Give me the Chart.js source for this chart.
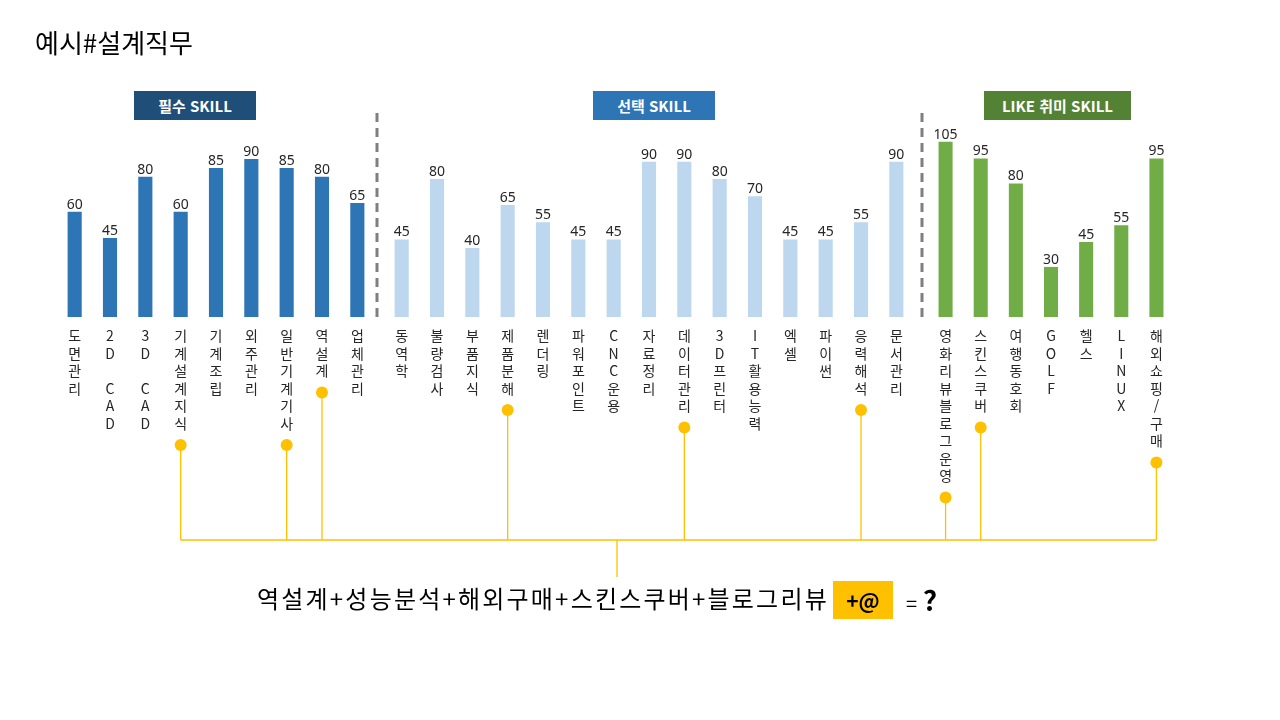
<!DOCTYPE html>
<html lang="ko">
<head>
<meta charset="utf-8">
<title>예시#설계직무</title>
<script src="https://cdn.jsdelivr.net/npm/chart.js@4.4.1/dist/chart.umd.min.js"></script>
<style>
  html, body { margin: 0; padding: 0; background: #fff; }
  #page { position: relative; width: 1280px; height: 720px; overflow: hidden;
          font-family: "Noto Sans CJK KR", "Noto Sans", sans-serif; }
  #page canvas { position: absolute; left: 0; top: 0; }
  .title { position: absolute; left: 35px; top: 29px; font-size: 26px; line-height: 26px; color: #000; }
  .tag { position: absolute; top: 91px; height: 29px; line-height: 29px; color: #fff;
         font-weight: bold; font-size: 15px; text-align: center; }
  .formula { position: absolute; left: 257px; top: 586px; font-size: 24px; line-height: 24px;
             color: #000; letter-spacing: 2.2px; white-space: nowrap; }
  .plus { position: absolute; left: 833px; top: 581px; width: 60px; height: 38px; line-height: 38px;
          background: #FFC000; color: #000; font-weight: bold; font-size: 21px; text-align: center; }
  .eq { position: absolute; left: 906px; top: 584px; font-size: 20px; line-height: 30px; color: #000; white-space: nowrap; }
  .eq b { font-size: 28px; }
</style>
</head>
<body>
<div id="page">
  <canvas id="c1" width="1280" height="720"></canvas>
  <canvas id="c2" width="1280" height="720"></canvas>
  <canvas id="c3" width="1280" height="720"></canvas>
  <canvas id="deco" width="1280" height="720"></canvas>
  <div class="title">예시#설계직무</div>
  <div class="tag" style="left:134px;width:122px;background:#1F4E79;">필수 SKILL</div>
  <div class="tag" style="left:593px;width:122px;background:#2E75B6;">선택 SKILL</div>
  <div class="tag" style="left:984px;width:147px;background:#548235;">LIKE 취미 SKILL</div>
  <div class="formula">역설계+성능분석+해외구매+스킨스쿠버+블로그리뷰</div>
  <div class="plus">+@</div>
  <div class="eq">= <b>?</b></div>
</div>
<script>
// 필수 SKILL
var mustLabels = ['도면관리', '2D CAD', '3D CAD', '기계설계지식', '기계조립', '외주관리', '일반기계기사', '역설계', '업체관리'];
var mustValues = [60, 45, 80, 60, 85, 90, 85, 80, 65];
// 선택 SKILL
var optLabels = ['동역학', '불량검사', '부품지식', '제품분해', '렌더링', '파워포인트', 'CNC운용', '자료정리', '데이터관리', '3D프린터', 'IT활용능력', '엑셀', '파이썬', '응력해석', '문서관리'];
var optValues = [45, 80, 40, 65, 55, 45, 45, 90, 90, 80, 70, 45, 45, 55, 90];
// LIKE 취미 SKILL
var likeLabels = ['영화리뷰블로그운영', '스킨스쿠버', '여행동호회', 'GOLF', '헬스', 'LINUX', '해외쇼핑/구매'];
var likeValues = [105, 95, 80, 30, 45, 55, 95];
// items joined into the formula
var linked = ['기계설계지식', '일반기계기사', '역설계', '제품분해', '데이터관리', '응력해석', '영화리뷰블로그운영', '스킨스쿠버', '해외쇼핑/구매'];

var FONT = '"Noto Sans CJK KR", "Noto Sans", sans-serif';
var BASE_Y = 317;
var TICK_PAD = 10;
var LINE_H = 17.5;

var valueLabels = {
    id: 'valueLabels',
    afterDatasetsDraw: function (chart) {
        var ctx = chart.ctx;
        var meta = chart.getDatasetMeta(0);
        var vals = chart.data.datasets[0].data;
        ctx.save();
        ctx.font = '14px "Noto Sans", sans-serif';
        ctx.fillStyle = '#262626';
        ctx.textAlign = 'center';
        ctx.textBaseline = 'alphabetic';
        meta.data.forEach(function (bar, i) {
            ctx.fillText(vals[i], bar.x, bar.y - 3);
        });
        ctx.restore();
    }
};

function makeChart(id, labels, values, color, padL, padR, yMax) {
    return new Chart(document.getElementById(id), {
        type: 'bar',
        data: {
            labels: labels.map(function (s) { return s.split(''); }),
            datasets: [{
                data: values,
                backgroundColor: color,
                barPercentage: 0.8,
                categoryPercentage: 0.5
            }]
        },
        options: {
            responsive: false,
            animation: false,
            events: [],
            layout: { padding: { left: padL, right: padR, top: 110, bottom: 0 } },
            plugins: { legend: { display: false }, tooltip: { enabled: false } },
            scales: {
                x: {
                    grid: { display: false, drawTicks: false },
                    border: { display: false },
                    ticks: {
                        autoSkip: false, maxRotation: 0, padding: TICK_PAD, color: '#262626',
                        font: { family: FONT, size: 14, lineHeight: 1.25 }
                    },
                    afterFit: function (s) { s.height = 720 - BASE_Y; }
                },
                y: { display: false, min: 0, max: yMax }
            }
        },
        plugins: [valueLabels]
    });
}

var c1 = makeChart('c1', mustLabels, mustValues, '#2E75B6', 57, 905, 118);
var c2 = makeChart('c2', optLabels, optValues, '#BDD7EE', 384, 366, 120);
var c3 = makeChart('c3', likeLabels, likeValues, '#70AD47', 928, 106, 124);

// separators + connector lines
var groups = [[c1, mustLabels], [c2, optLabels], [c3, likeLabels]];
var sepX = [377, 922];
var linkY = 540, stemX = 617, stemBottom = 577;

var ctx = document.getElementById('deco').getContext('2d');
ctx.save();
ctx.strokeStyle = '#7F7F7F';
ctx.lineWidth = 3;
ctx.setLineDash([9, 6]);
sepX.forEach(function (x) {
    ctx.beginPath();
    ctx.moveTo(x, 113);
    ctx.lineTo(x, BASE_Y);
    ctx.stroke();
});
ctx.restore();

var dots = [];
groups.forEach(function (g) {
    var sc = g[0].scales.x;
    g[1].forEach(function (name, i) {
        if (linked.indexOf(name) < 0) return;
        dots.push({ x: sc.getPixelForValue(i), y: sc.top + TICK_PAD + name.length * LINE_H + 13 });
    });
});

ctx.strokeStyle = '#FFC000';
ctx.lineWidth = 1.3;
ctx.beginPath();
dots.forEach(function (d) {
    ctx.moveTo(d.x, d.y);
    ctx.lineTo(d.x, linkY);
});
ctx.moveTo(dots[0].x, linkY);
ctx.lineTo(dots[dots.length - 1].x, linkY);
ctx.moveTo(stemX, linkY);
ctx.lineTo(stemX, stemBottom);
ctx.stroke();

ctx.fillStyle = '#FFC000';
dots.forEach(function (d) {
    ctx.beginPath();
    ctx.arc(d.x, d.y, 6, 0, Math.PI * 2);
    ctx.fill();
});
</script>
</body>
</html>
